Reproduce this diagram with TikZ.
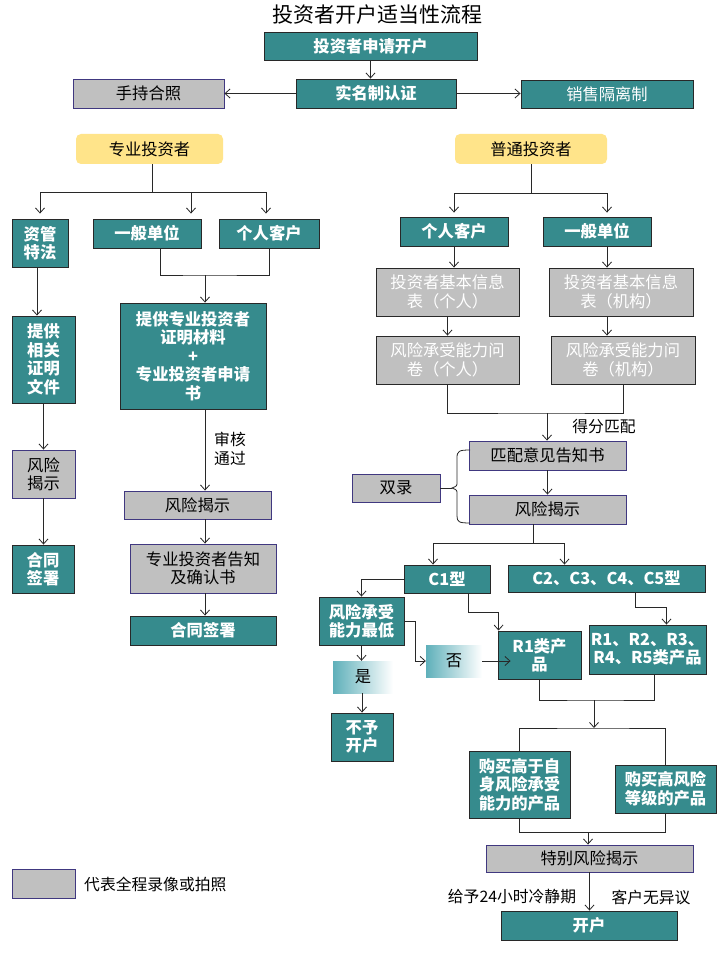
\documentclass[tikz,border=0pt]{standalone}
\usepackage{fontspec}
\setmainfont{Noto Sans CJK SC}
\usetikzlibrary{arrows.meta}
\definecolor{tealc}{RGB}{54,139,141}
\definecolor{grayc}{RGB}{192,192,192}
\definecolor{grayb}{RGB}{64,56,128}
\definecolor{yelc}{RGB}{255,228,138}
\definecolor{gradc}{RGB}{95,176,186}
\definecolor{linec}{RGB}{40,40,40}
\newcommand\mybox[7]{\node[#6, minimum width={(#4)-(#2)}, minimum height={(#5)-(#3)}] (#1) at ({((#2)+(#4))/2},{((#3)+(#5))/2}) {#7};}
\tikzset{
  base/.style={inner sep=0pt, align=center, font=\fontsize{16.3}{18.5}\selectfont},
  tealbox/.style={base, draw=linec, fill=tealc, text=white, font=\bfseries\fontsize{16.3}{18.5}\selectfont, line width=0.9pt},
  tealboxn/.style={base, draw=linec, fill=tealc, text=white, line width=0.9pt},
  graybox/.style={base, draw=grayb, fill=grayc, text=black, line width=0.9pt},
  graywbox/.style={graybox, draw=linec, text=white},
  yellowbox/.style={base, fill=yelc, rounded corners=5pt},
  gradbox/.style={base, left color=gradc, right color=white},
  arr/.style={-{Straight Barb[length=5pt,width=9pt]}, line width=0.8pt, draw=linec},
  ln/.style={line width=0.8pt, draw=linec},
  lbl/.style={inner sep=0pt, align=left, font=\fontsize{15.8}{19.5}\selectfont},
}
\begin{document}
\begin{tikzpicture}[x=1pt,y=-1pt]
\useasboundingbox[fill=white] (0,0) rectangle (720,960);
\node[inner sep=0pt, font=\fontsize{21}{24}\selectfont] (title) at (377,15) {投资者开户适当性流程};
\mybox{sq}{264}{32}{477}{60}{tealbox}{投资者申请开户}
\mybox{sm}{296}{79}{456}{108}{tealbox}{实名制认证}
\mybox{sc}{73}{79}{224}{108}{graybox}{手持合照}
\mybox{xs}{521}{80}{693}{108}{tealboxn}{销售隔离制}
\mybox{zy}{76}{134}{223}{164}{yellowbox}{专业投资者}
\mybox{pt}{455}{134}{607}{164}{yellowbox}{普通投资者}
% professional branch
\mybox{zg}{12}{219}{68}{267}{tealbox}{资管\\特法}
\mybox{ybL}{93}{219}{201}{248}{tealbox}{一般单位}
\mybox{grL}{219}{219}{319}{248}{tealbox}{个人客户}
\mybox{tg}{120}{303}{266}{409}{tealbox}{提供专业投资者\\证明材料\\+\\专业投资者申请\\书}
\mybox{fxL}{124}{491}{271}{519}{graybox}{风险揭示}
\mybox{gz}{130}{544}{276}{593}{graybox}{专业投资者告知\\及确认书}
\mybox{htM}{130}{616}{276}{645}{tealbox}{合同签署}
\mybox{tgwj}{12}{316}{75}{403}{tealbox}{提供\\相关\\证明\\文件}
\mybox{fxLL}{12}{450}{75}{498}{graybox}{风险\\揭示}
\mybox{htL}{12}{545}{74}{593}{tealbox}{合同\\签署}
% ordinary branch
\mybox{grR}{400}{217}{508}{246}{tealbox}{个人客户}
\mybox{ybR}{543}{217}{651}{246}{tealbox}{一般单位}
\mybox{xxG}{376}{268}{519}{316}{graywbox}{投资者基本信息\\表（个人）}
\mybox{xxJ}{549}{268}{693}{316}{graywbox}{投资者基本信息\\表（机构）}
\mybox{wjG}{376}{336}{519}{384}{graywbox}{风险承受能力问\\卷（个人）}
\mybox{wjJ}{551}{336}{695}{384}{graywbox}{风险承受能力问\\卷（机构）}
\mybox{pp}{469}{441}{626}{470}{graybox}{匹配意见告知书}
\mybox{fxR}{469}{495}{626}{524}{graybox}{风险揭示}
\mybox{sl}{352}{474}{440}{502}{graybox}{双录}
\mybox{c1}{404}{565}{490}{593}{tealbox}{C1型}
\mybox{c2}{508}{565}{705}{592}{tealbox}{C2、C3、C4、C5型}
\mybox{zd}{319}{597}{404}{645}{tealbox}{风险承受\\能力最低}
\mybox{r1}{498}{631}{581}{679}{tealbox}{R1类产\\品}
\mybox{r5}{589}{625}{706}{674}{tealbox}{R1、R2、R3、\\R4、R5类产品}
\mybox{fou}{426}{645}{482}{677}{gradbox}{否}
\mybox{shi}{333}{661}{393}{693}{gradbox}{是}
\mybox{by}{331}{713}{393}{761}{tealbox}{不予\\开户}
\mybox{gm1}{469}{751}{570}{818}{tealbox}{购买高于自\\身风险承受\\能力的产品}
\mybox{gm2}{615}{765}{716}{813}{tealbox}{购买高风险\\等级的产品}
\mybox{tb}{486}{845}{693}{872}{graybox}{特别风险揭示}
\mybox{kh}{501}{911}{677}{940}{tealbox}{开户}
\mybox{lg}{12}{869}{75}{898}{graybox}{}
\node[lbl, anchor=west] (lgt) at (84,884) {代表全程录像或拍照};
% labels
\node[lbl] (shtg) at (230,449) {审核\\通过};
\node[lbl] (dfpp) at (604,427) {得分匹配};
\node[lbl] (lj) at (512,897) {给予24小时冷静期};
\node[lbl] (wyy) at (651,897) {客户无异议};
% top connectors
\draw[arr] (sq.south) -- (sq.south |- sm.north);
\draw[arr] (sm.west) -- (sm.west -| sc.east);
\draw[arr] (sm.east) -- (sm.east -| xs.west);
% professional tree
\draw[ln] ([xshift=3pt]zy.south) -- ++(0,28) coordinate (j1);
\draw[arr, shorten >=5pt] (j1) -| (zg.north);
\draw[arr, shorten >=5pt] (j1) -| ([xshift=44pt]ybL.north);
\draw[arr, shorten >=5pt] (j1) -| ([xshift=-3pt]grL.north);
\coordinate (j2) at (205,275);
\draw[ln] ([xshift=13pt]ybL.south) |- (j2) -| (grL.south);
\draw[arr] (j2) -- (j2 |- tg.north);
\draw[arr] (tg.south -| j2) -- (fxL.north -| j2);
\draw[arr] (fxL.south -| j2) -- (gz.north -| j2);
\draw[arr] (gz.south -| j2) -- (htM.north -| j2);
\draw[arr] ([xshift=-3pt]zg.south) -- ([xshift=-3pt]zg.south |- tgwj.north);
\draw[arr] (tgwj.south) -- (fxLL.north);
\draw[arr] (fxLL.south) -- (fxLL.south |- htL.north);
% ordinary tree
\draw[ln] (pt.south) -- ++(0,29) coordinate (j3);
\draw[arr, shorten >=4pt] (j3) -| (grR.north);
\draw[arr, shorten >=4pt] (j3) -| ([xshift=10pt]ybR.north);
\coordinate (xr) at (607,0);
\draw[arr] (grR.south) -- (grR.south |- xxG.north);
\draw[arr] (ybR.south -| xr) -- (xxJ.north -| xr);
\draw[arr] (xxG.south) -- (wjG.north);
\draw[arr] (xxJ.south -| xr) -- (wjJ.north -| xr);
\coordinate (j4) at (547,413);
\draw[ln] (wjG.south) |- (j4) -| (wjJ.south);
\draw[arr] (j4) -- (j4 |- pp.north);
\draw[arr] (pp.south) -- (fxR.north);
% brace
\coordinate (bt) at (470,450);
\coordinate (bb) at (470,523);
\coordinate (btip) at (452,488);
\draw[ln] (bt) .. controls (459,450) and (457,451) .. (457,458) -- (457,482) .. controls (457,486) .. (btip) .. controls (457,490) .. (457,494) -- (457,516) .. controls (457,522) and (459,523) .. (bb);
\draw[ln] (sl.east) -- (btip);
% C branches
\coordinate (j5) at (533,543);
\draw[ln] (fxR.south -| j5) -- (j5);
\draw[arr] (j5) -| ([xshift=-14pt]c1.north);
\draw[arr] (j5) -| ([xshift=-42pt]c2.north);
\draw[arr] (c1.west) -| (zd.north);
\coordinate (j6) at (468,612);
\draw[arr] (c1.south -| j6) -- (j6) -| ([xshift=1pt]r1.north west);
\draw[arr] (zd.east) -- ++(11,0) |- (fou.west);
\draw[arr] (fou.east) -- ([xshift=13pt]fou.east -| r1.west);
\draw[arr] (zd.south) -- (zd.south |- shi.north);
\draw[arr] (by.north |- shi.south) -- (by.north);
\coordinate (j8) at (635,607);
\draw[arr] (c2.south -| j8) -- (j8) -| ([xshift=19pt]r5.north);
\coordinate (j9) at (594,700);
\draw[ln] (r1.south) |- (j9) -| ([xshift=6.5pt]r5.south);
\draw[arr] (j9) -- ++(0,28) coordinate (j10);
\draw[ln] (gm1.north) |- (j10) -| (gm2.north);
\coordinate (j11) at (588,832);
\draw[ln] (gm1.south) |- (j11) -| (gm2.south);
\draw[arr] (j11) -- (j11 |- tb.north);
\draw[arr] (tb.south) -- (tb.south |- kh.north);
\end{tikzpicture}
\end{document}
